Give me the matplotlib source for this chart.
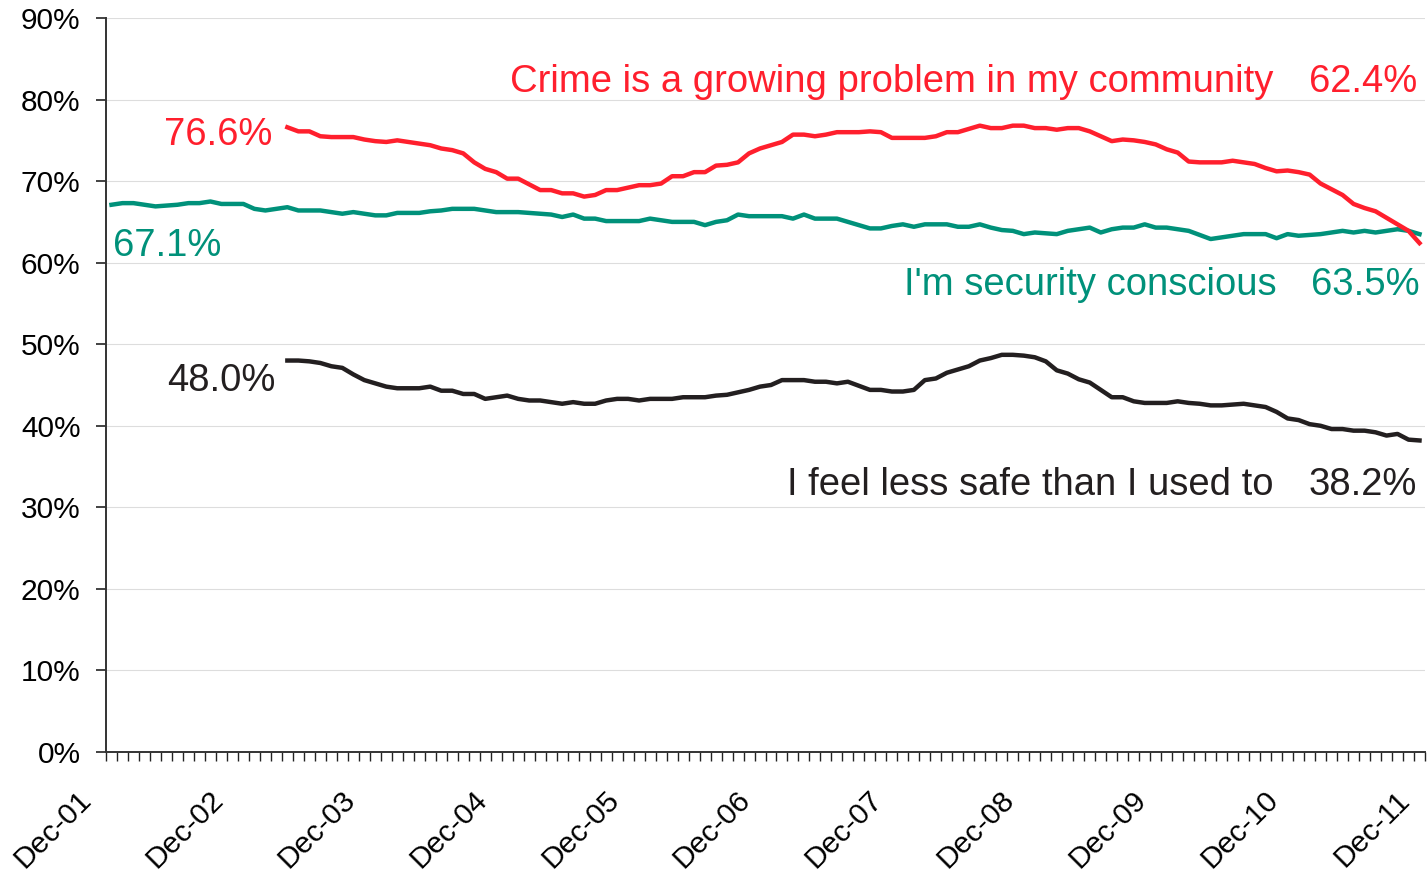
import numpy as np
import matplotlib
matplotlib.use("Agg")
import matplotlib.pyplot as plt
import matplotlib.transforms as mtransforms
from matplotlib.ticker import MultipleLocator, FuncFormatter

plt.rcParams['font.family'] = ['Liberation Sans', 'DejaVu Sans']

# Monthly series, Dec-01 onwards (index 0 = first month)
security_conscious = [
    67.1, 67.3, 67.3, 67.1, 66.9, 67.0, 67.1, 67.3, 67.3, 67.5,
    67.2, 67.2, 67.2, 66.6, 66.4, 66.6, 66.8, 66.4, 66.4, 66.4,
    66.2, 66.0, 66.2, 66.0, 65.8, 65.8, 66.1, 66.1, 66.1, 66.3,
    66.4, 66.6, 66.6, 66.6, 66.4, 66.2, 66.2, 66.2, 66.1, 66.0,
    65.9, 65.6, 65.9, 65.4, 65.4, 65.1, 65.1, 65.1, 65.1, 65.4,
    65.2, 65.0, 65.0, 65.0, 64.6, 65.0, 65.2, 65.9, 65.7, 65.7,
    65.7, 65.7, 65.4, 65.9, 65.4, 65.4, 65.4, 65.0, 64.6, 64.2,
    64.2, 64.5, 64.7, 64.4, 64.7, 64.7, 64.7, 64.4, 64.4, 64.7,
    64.3, 64.0, 63.9, 63.5, 63.7, 63.6, 63.5, 63.9, 64.1, 64.3,
    63.7, 64.1, 64.3, 64.3, 64.7, 64.3, 64.3, 64.1, 63.9, 63.4,
    62.9, 63.1, 63.3, 63.5, 63.5, 63.5, 63.0, 63.5, 63.3, 63.4,
    63.5, 63.7, 63.9, 63.7, 63.9, 63.7, 63.9, 64.1, 63.9, 63.5,
]

# These two series begin at month index 16
later_start = 16
crime_growing = [
    76.6, 76.1, 76.1, 75.5, 75.4, 75.4, 75.4, 75.1, 74.9, 74.8,
    75.0, 74.8, 74.6, 74.4, 74.0, 73.8, 73.4, 72.3, 71.5, 71.1,
    70.3, 70.3, 69.6, 68.9, 68.9, 68.5, 68.5, 68.1, 68.3, 68.9,
    68.9, 69.2, 69.5, 69.5, 69.7, 70.6, 70.6, 71.1, 71.1, 71.9,
    72.0, 72.3, 73.4, 74.0, 74.4, 74.8, 75.7, 75.7, 75.5, 75.7,
    76.0, 76.0, 76.0, 76.1, 76.0, 75.3, 75.3, 75.3, 75.3, 75.5,
    76.0, 76.0, 76.4, 76.8, 76.5, 76.5, 76.8, 76.8, 76.5, 76.5,
    76.3, 76.5, 76.5, 76.1, 75.5, 74.9, 75.1, 75.0, 74.8, 74.5,
    73.9, 73.5, 72.4, 72.3, 72.3, 72.3, 72.5, 72.3, 72.1, 71.6,
    71.2, 71.3, 71.1, 70.8, 69.7, 69.0, 68.3, 67.2, 66.7, 66.3,
    65.5, 64.7, 63.9, 62.4,
]
less_safe = [
    48.0, 48.0, 47.9, 47.7, 47.3, 47.1, 46.3, 45.6, 45.2, 44.8,
    44.6, 44.6, 44.6, 44.8, 44.3, 44.3, 43.9, 43.9, 43.3, 43.5,
    43.7, 43.3, 43.1, 43.1, 42.9, 42.7, 42.9, 42.7, 42.7, 43.1,
    43.3, 43.3, 43.1, 43.3, 43.3, 43.3, 43.5, 43.5, 43.5, 43.7,
    43.8, 44.1, 44.4, 44.8, 45.0, 45.6, 45.6, 45.6, 45.4, 45.4,
    45.2, 45.4, 44.9, 44.4, 44.4, 44.2, 44.2, 44.4, 45.6, 45.8,
    46.5, 46.9, 47.3, 48.0, 48.3, 48.7, 48.7, 48.6, 48.4, 47.9,
    46.8, 46.4, 45.7, 45.3, 44.4, 43.5, 43.5, 43.0, 42.8, 42.8,
    42.8, 43.0, 42.8, 42.7, 42.5, 42.5, 42.6, 42.7, 42.5, 42.3,
    41.7, 40.9, 40.7, 40.2, 40.0, 39.6, 39.6, 39.4, 39.4, 39.2,
    38.8, 39.0, 38.3, 38.2,
]

year_labels = ["Dec-01", "Dec-02", "Dec-03", "Dec-04", "Dec-05", "Dec-06",
               "Dec-07", "Dec-08", "Dec-09", "Dec-10", "Dec-11"]

RED = "#FF1F2D"
TEAL = "#00917A"
DARK = "#231F20"

n_months = len(security_conscious)
x_all = np.arange(n_months) + 0.5
x_late = np.arange(later_start, later_start + len(crime_growing)) + 0.5

fig = plt.figure(figsize=(14.27, 8.71), dpi=100)
ax = fig.add_axes([106 / 1427, 1 - 752 / 871, (1425 - 106) / 1427, (752 - 18) / 871])

ax.plot(x_all, security_conscious, color=TEAL, lw=3.2, solid_joinstyle="round", zorder=3)
ax.plot(x_late, crime_growing, color=RED, lw=3.2, solid_joinstyle="round", zorder=4)
ax.plot(x_late, less_safe, color=DARK, lw=3.2, solid_joinstyle="round", zorder=3)

ax.set_xlim(0, n_months)
ax.set_ylim(0, 90)

# y axis
ax.yaxis.set_major_locator(MultipleLocator(10))
ax.yaxis.set_major_formatter(FuncFormatter(lambda v, p: f"{v:.0f}%"))
ax.grid(axis="y", color="#DDDDDD", lw=0.8, zorder=0)
ax.tick_params(axis="y", direction="out", length=7.2, width=1.2, pad=11,
               labelsize=21.5, colors="#222222", labelcolor="black")

# x axis: monthly ticks, labelled each December
ax.xaxis.set_minor_locator(MultipleLocator(1))
ax.set_xticks(np.arange(0, 12 * len(year_labels), 12))
ax.set_xticklabels(year_labels, rotation=45, ha="right", va="top",
                   rotation_mode="anchor")
ax.tick_params(axis="x", which="both", direction="out", length=6.5, width=1.0,
               colors="#222222", labelcolor="black")
ax.tick_params(axis="x", which="major", labelsize=21.5, pad=14)
shift = mtransforms.ScaledTranslation(-0.29, -0.05, fig.dpi_scale_trans)
for lab in ax.get_xticklabels():
    lab.set_transform(lab.get_transform() + shift)

for s in ("top", "right"):
    ax.spines[s].set_visible(False)
for s in ("left", "bottom"):
    ax.spines[s].set_color("#333333")
    ax.spines[s].set_linewidth(1.4)

fs = 27.5
# series labels
ax.text(106.2, 80.9, "Crime is a growing problem in my community", color=RED,
        fontsize=fs, ha="right", va="baseline")
ax.text(119.3, 80.9, f"{crime_growing[-1]:.1f}%", color=RED,
        fontsize=fs, ha="right", va="baseline")
ax.text(15.1, 74.4, f"{crime_growing[0]:.1f}%", color=RED,
        fontsize=fs, ha="right", va="baseline")

ax.text(0.6, 60.8, f"{security_conscious[0]:.1f}%", color=TEAL,
        fontsize=fs, ha="left", va="baseline")
ax.text(106.5, 56.0, "I'm security conscious", color=TEAL,
        fontsize=fs, ha="right", va="baseline")
ax.text(119.5, 56.0, f"{security_conscious[-1]:.1f}%", color=TEAL,
        fontsize=fs, ha="right", va="baseline")

ax.text(15.4, 44.3, f"{less_safe[0]:.1f}%", color=DARK,
        fontsize=fs, ha="right", va="baseline")
ax.text(106.2, 31.5, "I feel less safe than I used to", color=DARK,
        fontsize=fs, ha="right", va="baseline")
ax.text(119.3, 31.5, f"{less_safe[-1]:.1f}%", color=DARK,
        fontsize=fs, ha="right", va="baseline")

fig.savefig("out.png", dpi=100, facecolor="white")
